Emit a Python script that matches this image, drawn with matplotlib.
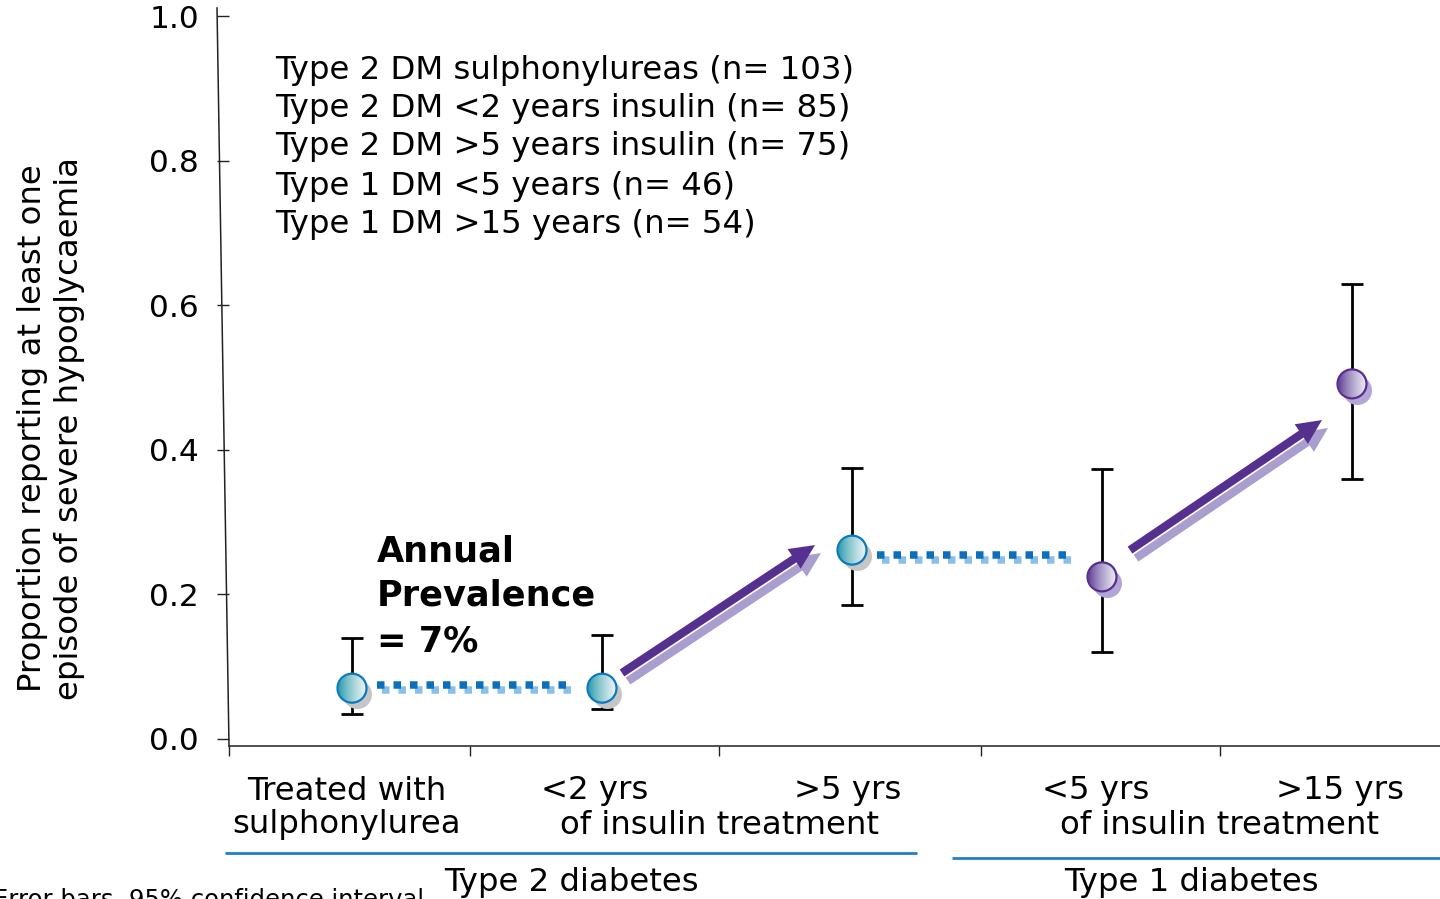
import numpy as np
import matplotlib
matplotlib.use('Agg')
import matplotlib.pyplot as plt
from matplotlib.transforms import offset_copy
from matplotlib.patches import FancyArrowPatch, ArrowStyle

plt.rcParams['font.family'] = ['DejaVu Sans']

# ---------------- data ----------------
positions = [0, 1, 2, 3, 4]
diabetes_type = ['T2', 'T2', 'T2', 'T1', 'T1']
proportion = [0.070, 0.070, 0.261, 0.224, 0.491]
ci_low = [0.034, 0.041, 0.185, 0.120, 0.359]
ci_high = [0.139, 0.144, 0.375, 0.373, 0.629]

legend_lines = ["Type 2 DM sulphonylureas (n= 103)",
                "Type 2 DM <2 years insulin (n= 85)",
                "Type 2 DM >5 years insulin (n= 75)",
                "Type 1 DM <5 years (n= 46)",
                "Type 1 DM >15 years (n= 54)"]

row1_labels = ["Treated with", "<2 yrs", ">5 yrs", "<5 yrs", ">15 yrs"]
row1_pos = [-0.02, 0.972, 1.984, 2.976, 3.952]
row2_labels = ["sulphonylurea", "of insulin treatment", "of insulin treatment"]
row2_pos = [-0.02, 1.472, 3.472]
group_labels = ["Type 2 diabetes", "Type 1 diabetes"]
group_spans = [(-0.508, 2.26), (2.40, 4.352)]
group_label_pos = [0.876, 3.356]

yticks = [0.0, 0.2, 0.4, 0.6, 0.8, 1.0]
ytick_labels = ["0.0", "0.2", "0.4", "0.6", "0.8", "1.0"]
xtick_pos = [-0.492, 0.472, 1.468, 2.516, 3.472]

# dotted connectors (same-level comparisons)
connector_from = [0, 2]
connector_to = [1, 3]
connector_y = [0.074, 0.254]
# arrows (tail -> tip, data coords)
arrow_tail = [(1.08, 0.091), (3.112, 0.261)]
arrow_tip = [(1.852, 0.268), (3.88, 0.441)]

prevalence_lines = ["Annual", "Prevalence", "= 7%"]
footnote = "Error bars, 95% confidence interval"

# ---------------- style ----------------
W, H = 1440, 899
FS = 23.3
col_t2_edge = '#0a78c2'
col_t2_dark = np.array([27, 150, 162]) / 255
col_t2_light = np.array([244, 247, 249]) / 255
col_t1_edge = '#5a2d91'
col_t1_dark = np.array([84, 50, 142]) / 255
col_t1_light = np.array([240, 240, 246]) / 255
col_t2_shadow = '#c6c6c6'
col_t1_shadow = '#b3a6d6'
col_dot_dark = '#0b6fbe'
col_dot_light = '#8ac0e7'
col_arrow = '#55308f'
col_arrow_shadow = '#aa9ecf'
col_group = '#1f7fcc'

fig = plt.figure(figsize=(W / 100, H / 100), dpi=100)
ax = fig.add_axes([229 / W, 1 - 746 / H, 1211 / W, 730 / H])
ax.set_xlim(-0.492, 4.352)
ax.set_ylim(-0.01, 1.0)

for s in ['top', 'right', 'left']:
    ax.spines[s].set_visible(False)
ax.spines['bottom'].set_linewidth(1.1)
ax.spines['bottom'].set_color('#222222')

# tilted left axis line, as in the original slide
ax.plot([0, -0.0099], [0, 1.011], transform=ax.transAxes, color='#222222',
        lw=1.1, clip_on=False)

ax.set_yticks(yticks)
ax.set_yticklabels(ytick_labels, fontsize=22.5)
ax.tick_params(axis='y', direction='out', length=8.6, width=1.0, pad=13,
               color='#222222')
ax.set_xticks(xtick_pos)
ax.set_xticklabels([])
ax.tick_params(axis='x', direction='out', length=7.5, width=1.0,
               color='#222222')

# error bars
ax.errorbar(positions, proportion,
            yerr=[np.array(proportion) - np.array(ci_low),
                  np.array(ci_high) - np.array(proportion)],
            fmt='none', ecolor='black', elinewidth=2.0, capsize=7.6,
            capthick=2.0, zorder=2)

# dotted connectors
light_tr = offset_copy(ax.transData, fig=fig, x=5, y=-5, units='dots')
for a, b, yv in zip(connector_from, connector_to, connector_y):
    xs = [positions[a] + 0.10, positions[b] - 0.14]
    ax.plot(xs, [yv, yv], color=col_dot_light, lw=5.4,
            linestyle=(0, (1.0, 1.2)), dash_capstyle='butt',
            transform=light_tr, zorder=3)
    ax.plot(xs, [yv, yv], color=col_dot_dark, lw=5.4,
            linestyle=(0, (1.0, 1.2)), dash_capstyle='butt', zorder=3.1)

# arrows
astyle = ArrowStyle('simple', head_length=1.8, head_width=1.7, tail_width=0.6)
shadow_tr = offset_copy(ax.transData, fig=fig, x=6, y=-8, units='dots')
for t0, t1 in zip(arrow_tail, arrow_tip):
    ax.add_patch(FancyArrowPatch(t0, t1, arrowstyle=astyle, mutation_scale=10,
                                 color=col_arrow_shadow, lw=0, shrinkA=0,
                                 shrinkB=0, transform=shadow_tr, zorder=3))
    ax.add_patch(FancyArrowPatch(t0, t1, arrowstyle=astyle, mutation_scale=10,
                                 color=col_arrow, lw=0, shrinkA=0, shrinkB=0,
                                 zorder=3.1))

# markers: shadow + gradient fill + edge ring
r_px = 14.5
inv = ax.transData.inverted()
p0 = inv.transform((0, 0))
p1 = inv.transform((r_px, r_px))
rx, ry = p1[0] - p0[0], p1[1] - p0[1]
n = 160
gx, gy = np.meshgrid(np.linspace(-1, 1, n), np.linspace(-1, 1, n))
rr = np.sqrt(gx ** 2 + gy ** 2)
alpha = np.clip((1.0 - rr) * n / 2.5, 0, 1)
tgrad = np.clip((gx + 1) / 2, 0, 1) ** 0.75

shadow_sz = (2 * r_px * 72 / 100) ** 2
mshadow_tr = offset_copy(ax.transData, fig=fig, x=5, y=-6, units='dots')
for xv, yv, kind in zip(positions, proportion, diabetes_type):
    if kind == 'T2':
        dark, light, edge, sh = col_t2_dark, col_t2_light, col_t2_edge, col_t2_shadow
    else:
        dark, light, edge, sh = col_t1_dark, col_t1_light, col_t1_edge, col_t1_shadow
    ax.scatter([xv], [yv], s=shadow_sz, color=sh, linewidths=0,
               transform=mshadow_tr, zorder=4)
    img = np.zeros((n, n, 4))
    for c in range(3):
        img[..., c] = dark[c] + (light[c] - dark[c]) * tgrad
    img[..., 3] = alpha
    ax.imshow(img, extent=[xv - rx, xv + rx, yv - ry, yv + ry], aspect='auto',
              interpolation='bilinear', zorder=5, origin='lower')
    ax.scatter([xv], [yv], s=shadow_sz, facecolors='none', edgecolors=edge,
               linewidths=1.6, zorder=6)

ax.set_xlim(-0.492, 4.352)
ax.set_ylim(-0.01, 1.0)

# legend-like text block
leg_y = [70, 108, 147, 186, 224]
for s, yp in zip(legend_lines, leg_y):
    fig.text(275 / W, 1 - yp / H, s, fontsize=FS, ha='left', va='center')

# annual prevalence
for s, yp in zip(prevalence_lines, [551, 596, 641]):
    fig.text(377 / W, 1 - yp / H, s, fontsize=25.3, fontweight='bold',
             ha='left', va='center')

# category labels
xt = ax.get_xaxis_transform()
for xv, s in zip(row1_pos, row1_labels):
    ax.text(xv, (746 - 791) / 730, s, transform=xt, ha='center', va='center',
            fontsize=FS, clip_on=False)
for xv, s in zip(row2_pos, row2_labels):
    ax.text(xv, (746 - 825) / 730, s, transform=xt, ha='center', va='center',
            fontsize=FS, clip_on=False)
for (a, b), s, lx, ly in zip(group_spans, group_labels, group_label_pos, [853, 858]):
    ax.plot([a, b], [(746 - ly) / 730] * 2, transform=xt, color=col_group,
            lw=2.0, clip_on=False, solid_capstyle='butt')
    ax.text(lx, (746 - 883) / 730, s, transform=xt, ha='center',
            va='center', fontsize=FS, clip_on=False)

# y label (two lines)
fig.text(33 / W, 1 - 428 / H, "Proportion reporting at least one", rotation=90,
         ha='center', va='center', fontsize=FS)
fig.text(70 / W, 1 - 429 / H, "episode of severe hypoglycaemia", rotation=90,
         ha='center', va='center', fontsize=FS)

# footnote (runs off the slide edge, as in the original)
fig.text(424 / W, 1 - 888 / H, footnote, ha='right', va='top', fontsize=17.5)

fig.savefig('out.png', dpi=100)
